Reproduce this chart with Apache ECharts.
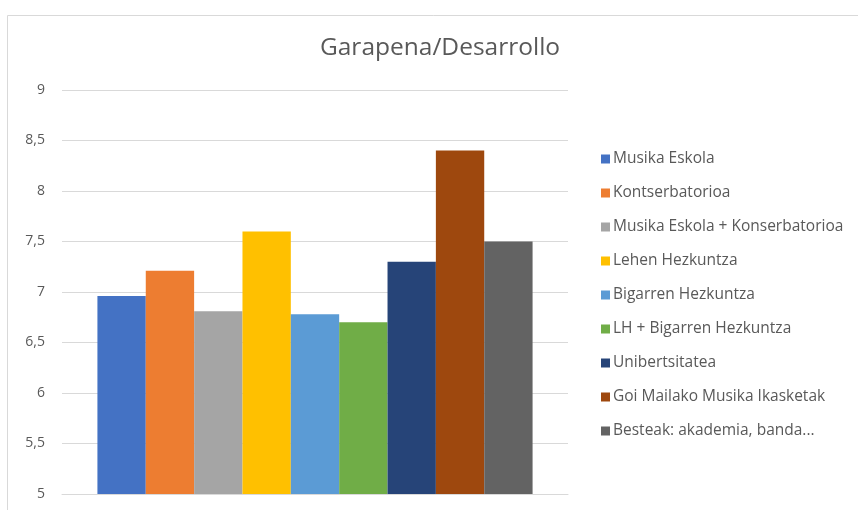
<!DOCTYPE html>
<html>
<head>
<meta charset="utf-8">
<script src="https://cdn.jsdelivr.net/npm/echarts@6/dist/echarts.min.js"></script>
<style>
  html, body { margin: 0; padding: 0; background: #fff; }
  #chart { width: 858px; height: 510px; }
</style>
</head>
<body>
<div id="chart"></div>
<script>
// datuak
var categories = ['Garapena/Desarrollo'];
var seriesNames = ['Musika Eskola', 'Kontserbatorioa', 'Musika Eskola + Konserbatorioa',
  'Lehen Hezkuntza', 'Bigarren Hezkuntza', 'LH + Bigarren Hezkuntza',
  'Unibertsitatea', 'Goi Mailako Musika Ikasketak', 'Besteak: akademia, banda...'];
var seriesValues = [6.96, 7.21, 6.81, 7.6, 6.78, 6.7, 7.3, 8.4, 7.5];
var colors = ['#4472C4', '#ED7D31', '#A5A5A5', '#FFC000', '#5B9BD5', '#70AD47', '#264478', '#9E480E', '#636363'];

var chart = echarts.init(document.getElementById('chart'));

var series = seriesNames.map(function (name, i) {
  return {
    name: name,
    type: 'bar',
    data: [seriesValues[i]],
    barGap: '0%',
    barCategoryGap: '14%',
    itemStyle: { color: colors[i] }
  };
});

var option = {
  color: colors,
  animation: false,
  textStyle: { fontFamily: '"Open Sans", sans-serif' },
  title: {
    text: 'Garapena/Desarrollo',
    left: 435,
    textAlign: 'center',
    top: 31,
    textStyle: { fontSize: 24.5, fontWeight: 'normal', color: '#595959', fontFamily: '"Open Sans", sans-serif' }
  },
  graphic: [{
    type: 'rect',
    shape: { x: 7.5, y: 15.5, width: 900, height: 600 },
    style: { fill: 'none', stroke: '#d9d9d9', lineWidth: 1 },
    silent: true
  }],
  legend: {
    orient: 'vertical',
    left: 596,
    top: 146,
    itemWidth: 9,
    itemHeight: 9,
    itemGap: 18,
    icon: 'rect',
    textStyle: { fontSize: 15.5, lineHeight: 14, color: '#595959', padding: [0, 0, 0, -2] },
    data: seriesNames
  },
  grid: { left: 62, right: 290, top: 90, bottom: 16 },
  xAxis: {
    type: 'category',
    data: categories,
    axisLabel: { show: false },
    axisTick: { show: false },
    axisLine: { show: true, lineStyle: { color: '#d9d9d9' } }
  },
  yAxis: {
    type: 'value',
    min: 5,
    max: 9,
    interval: 0.5,
    axisLine: { show: false },
    axisTick: { show: false },
    axisLabel: {
      margin: 17,
      fontSize: 14,
      color: '#595959',
      formatter: function (v) { return String(v).replace('.', ','); }
    },
    splitLine: { lineStyle: { color: '#d9d9d9', width: 1 } }
  },
  series: series
};

chart.setOption(option);
</script>
</body>
</html>
